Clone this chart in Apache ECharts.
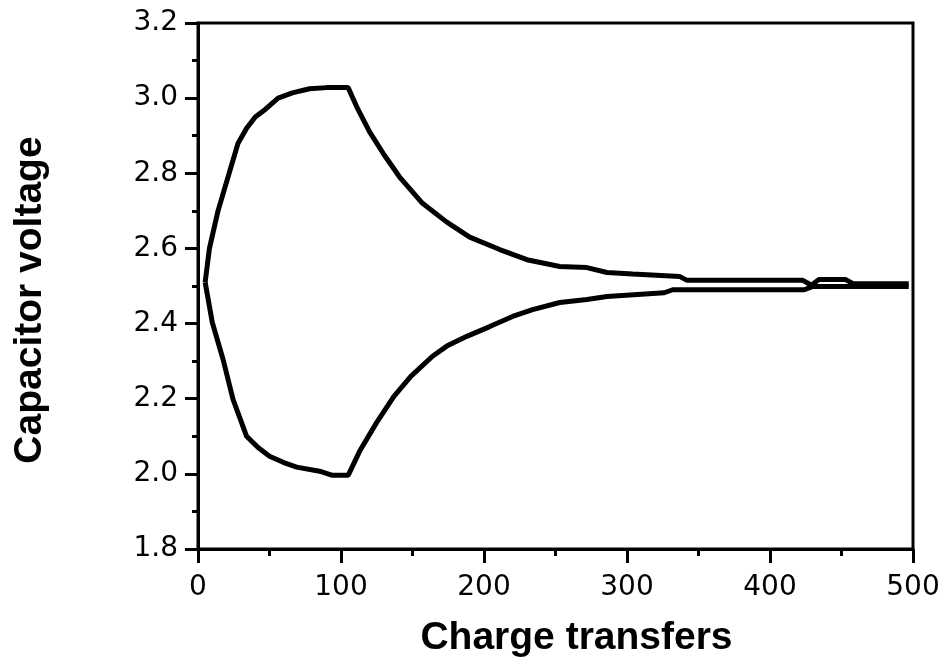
<!DOCTYPE html>
<html>
<head>
<meta charset="utf-8">
<script src="https://cdn.jsdelivr.net/npm/echarts@6/dist/echarts.min.js"></script>
<style>
  html, body { margin: 0; padding: 0; background: #fff; }
  #chart { width: 943px; height: 663px; }
</style>
</head>
<body>
<div id="chart"></div>
<script>
// upper branch: [charge transfers, voltage]
var upperCurve = [
    [5, 2.51], [8, 2.6], [14, 2.7], [21, 2.79], [28, 2.88], [34, 2.92], [40, 2.95],
    [47, 2.97], [56, 3.0], [66, 3.014], [78, 3.025], [90, 3.028], [105, 3.028],
    [111, 2.977], [120, 2.91], [130, 2.85], [141, 2.79], [157, 2.72], [174, 2.67],
    [190, 2.63], [211, 2.597], [230, 2.57], [253, 2.552], [272, 2.549], [286, 2.536],
    [304, 2.532], [337, 2.525], [342, 2.515], [423, 2.515], [429, 2.502], [434, 2.517],
    [453, 2.517], [458, 2.506], [497, 2.506]
];
// lower branch
var lowerCurve = [
    [5, 2.51], [10, 2.403], [17.5, 2.305], [24.5, 2.198], [34, 2.10], [42, 2.07],
    [50, 2.047], [60, 2.03], [69, 2.018], [85, 2.007], [94, 1.996], [105, 1.996],
    [113, 2.06], [125, 2.137], [137, 2.206], [149, 2.26], [164, 2.313], [174, 2.34],
    [188, 2.366], [204, 2.392], [220, 2.419], [234, 2.437], [253, 2.456], [272, 2.464],
    [286, 2.472], [302, 2.476], [326, 2.482], [332, 2.49], [424, 2.49], [430, 2.499],
    [497, 2.499]
];
var xTicks = [0, 100, 200, 300, 400, 500];
var yTicks = ['1.8', '2.0', '2.2', '2.4', '2.6', '2.8', '3.0', '3.2'];
var xTitle = 'Charge transfers';
var yTitle = 'Capacitor voltage';

var chart = echarts.init(document.getElementById('chart'));

var axisLine = { show: true, onZero: false, lineStyle: { color: '#000', width: 3 } };

chart.setOption({
    animation: false,
    backgroundColor: '#fff',
    grid: {
        left: 198, right: 30, top: 23, bottom: 113,
        show: true, borderColor: '#000', borderWidth: 3
    },
    xAxis: {
        type: 'value',
        min: xTicks[0], max: xTicks[xTicks.length - 1], interval: 100,
        name: xTitle,
        nameLocation: 'middle',
        nameGap: 70,
        nameTextStyle: {
            fontFamily: 'Liberation Sans', fontWeight: 'bold', fontSize: 39,
            color: '#000', padding: [0, 0, 0, 42]
        },
        axisLine: axisLine,
        axisTick: { show: true, length: 14, lineStyle: { color: '#000', width: 3 } },
        minorTick: { show: true, splitNumber: 2, length: 7, lineStyle: { color: '#000', width: 3 } },
        splitLine: { show: false },
        axisLabel: {
            margin: 25, color: '#000', fontFamily: 'DejaVu Sans', fontSize: 28,
            formatter: function (v) { return String(v); }
        }
    },
    yAxis: {
        type: 'value',
        min: 1.8, max: 3.2, interval: 0.2,
        name: yTitle,
        nameLocation: 'middle',
        nameGap: 148,
        nameTextStyle: {
            fontFamily: 'Liberation Sans', fontWeight: 'bold', fontSize: 39, color: '#000',
            padding: [0, 28, 0, 0]
        },
        axisLine: axisLine,
        axisTick: { show: true, length: 13, lineStyle: { color: '#000', width: 3 } },
        minorTick: { show: true, splitNumber: 2, length: 6, lineStyle: { color: '#000', width: 3 } },
        splitLine: { show: false },
        axisLabel: {
            margin: 20, color: '#000', fontFamily: 'DejaVu Sans', fontSize: 28,
            formatter: function (v) {
                var i = Math.round((v - 1.8) / 0.2);
                return yTicks[i] !== undefined ? yTicks[i] : v.toFixed(1);
            }
        }
    },
    series: [
        {
            type: 'line', data: upperCurve, showSymbol: false,
            lineStyle: { color: '#000', width: 5 }
        },
        {
            type: 'line', data: lowerCurve, showSymbol: false,
            lineStyle: { color: '#000', width: 5 }
        }
    ]
});
</script>
</body>
</html>
